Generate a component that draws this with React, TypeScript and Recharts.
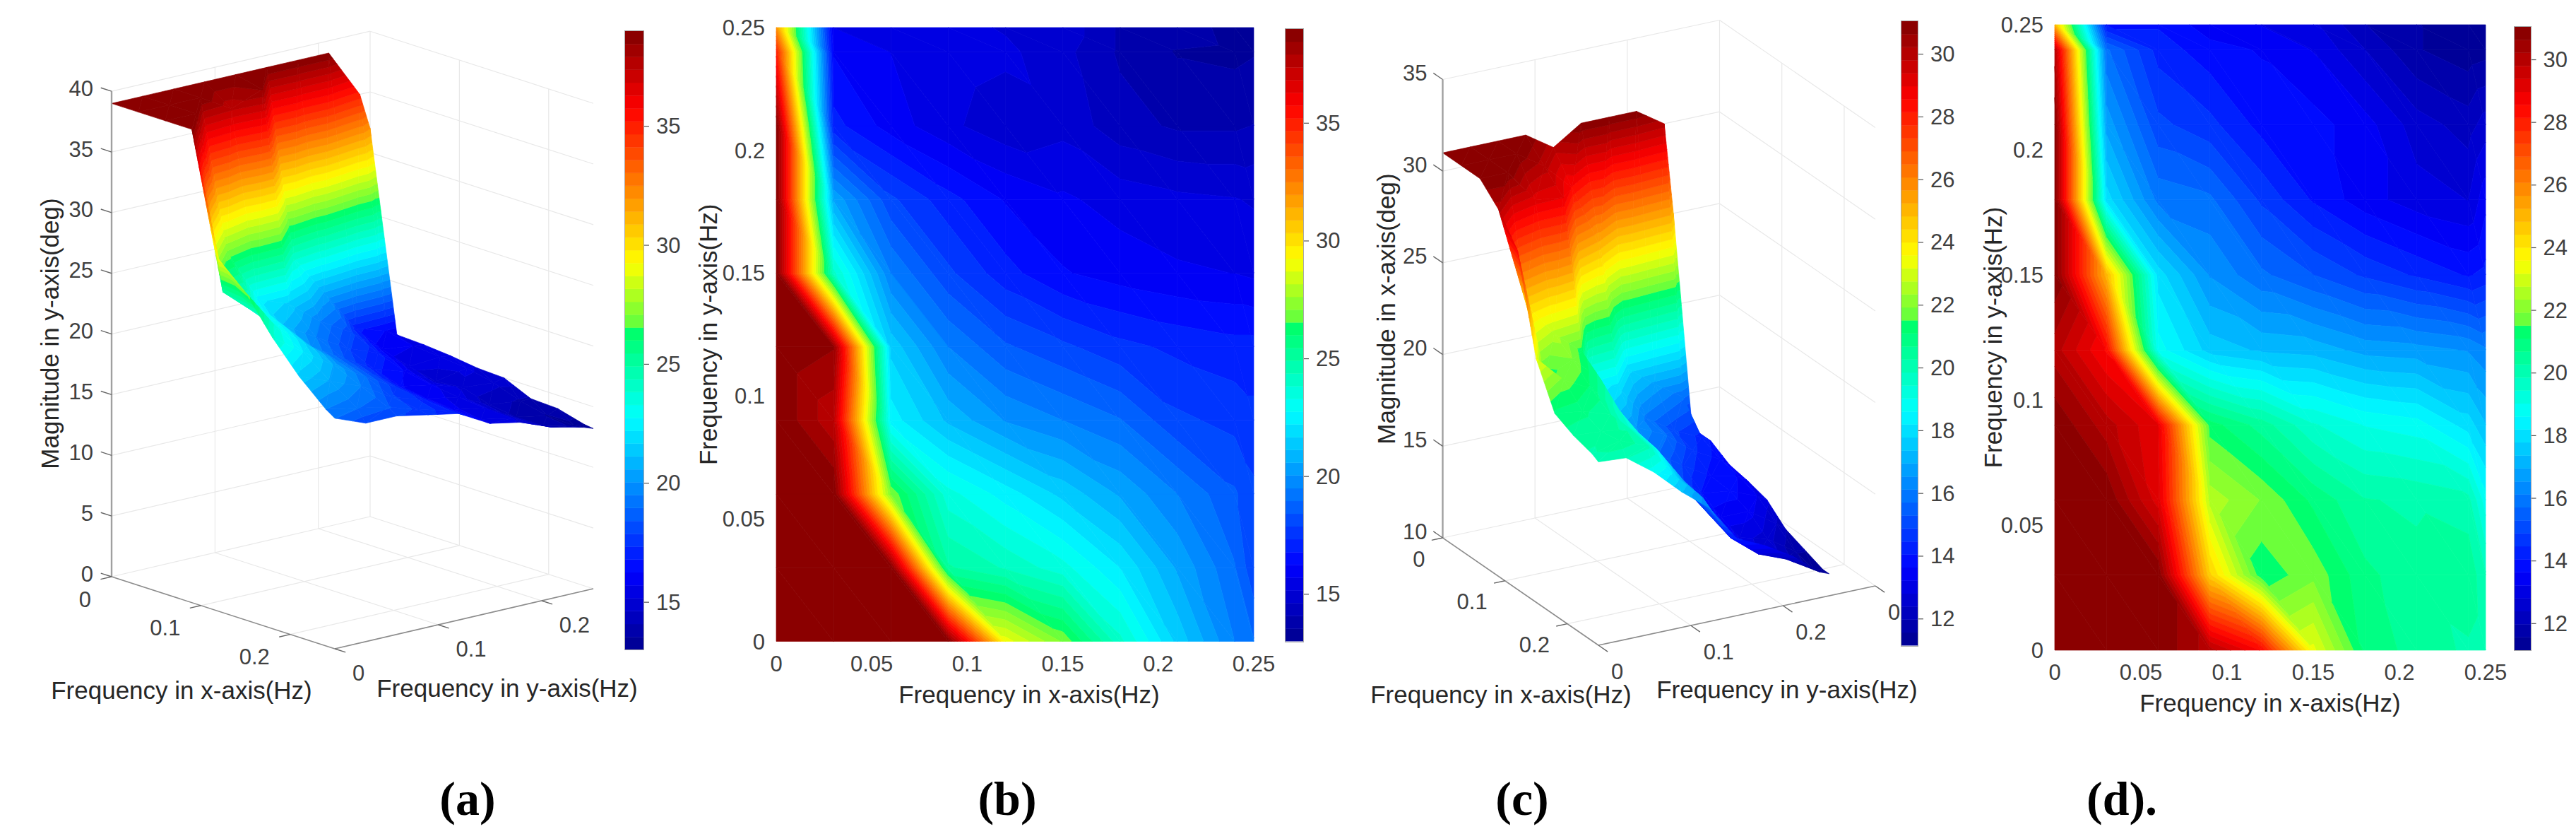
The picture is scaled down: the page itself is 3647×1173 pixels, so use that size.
import { Bar, BarChart, Label, Scatter, ScatterChart, XAxis, YAxis } from "recharts";

// grid of the measurements, same on both frequency axes
const freqs = [0, 0.03, 0.06, 0.09, 0.12, 0.15, 0.18, 0.21, 0.24, 0.25];

// one row per y frequency, one column per x frequency
const magnitudeY = [
  [39, 39, 39, 39, 29, 27, 24, 21.5, 19.5, 19],
  [39, 39, 39, 25, 24.3, 23.5, 22.2, 20.5, 19, 18],
  [39, 39, 27, 23.5, 22.5, 21.5, 20.5, 19.5, 18.5, 18],
  [39, 37.5, 22.5, 21, 20, 19.5, 19, 18, 17.7, 17.5],
  [39, 38.5, 21.5, 19.5, 18.5, 18, 17.5, 17.2, 17, 17],
  [39, 24, 19.5, 18, 17, 16.3, 16, 15.8, 15.7, 15.6],
  [39, 20.5, 18, 17, 16.2, 15.8, 15.5, 15.3, 15.2, 15.1],
  [39, 17, 16, 15.3, 14.8, 15, 14.3, 14, 14, 14.1],
  [35, 16.2, 15.7, 15.5, 15.3, 14.8, 14, 13.5, 13.4, 13.5],
  [32, 15.7, 15.6, 15.4, 15.1, 15, 14, 13.9, 13.3, 13.2],
];

const magnitudeX = [
  [31, 31, 31, 30, 28.5, 23.3, 21, 20.5, 20.2, 20],
  [31, 31, 31, 24.5, 21.2, 21.8, 20.8, 20.4, 20.6, 19.9],
  [31, 31, 29.2, 22.6, 21.9, 21, 20.3, 20.2, 20, 18.8],
  [31, 30, 29, 21.3, 20.5, 19.5, 19, 18.8, 18, 17.4],
  [30, 28.5, 18.8, 17.6, 17.3, 17.2, 16.8, 16.7, 16.5, 16.2],
  [31, 25, 18, 16.5, 15.8, 15.3, 14.8, 14.4, 14, 14.2],
  [31, 18, 16, 15.8, 14.8, 14, 13.4, 13, 12.8, 13.5],
  [31, 16.8, 15, 14.6, 13.9, 13.8, 13.4, 12.6, 12.2, 12.6],
  [30, 15.8, 14.3, 13.8, 13.6, 13.2, 12.4, 11.6, 11.3, 11.4],
  [25, 14, 14, 13.4, 13.2, 12.9, 12, 11.6, 11.2, 11.2],
];

const heatTicks = [0, 0.05, 0.1, 0.15, 0.2, 0.25];
const barTicksY = [15, 20, 25, 30, 35];
const barTicksX = [12, 14, 16, 18, 20, 22, 24, 26, 28, 30];
const zTicksY = [0, 5, 10, 15, 20, 25, 30, 35, 40];
const zTicksX = [10, 15, 20, 25, 30, 35];

const SANS = "'Liberation Sans', Arial, sans-serif";
const TICK_COLOR = "#404040";
const LABEL_COLOR = "#262626";
const BANDS = 48;

// jet, with the step the source figure has just above the middle green
const mapStops = [
  [0, 0, 0, 143],
  [0.125, 0, 0, 255],
  [0.375, 0, 255, 255],
  [0.515, 0, 255, 105],
  [0.52, 90, 255, 65],
  [0.625, 255, 255, 0],
  [0.875, 255, 0, 0],
  [1, 128, 0, 0],
];

function mapColor(t: number) {
  for (let i = 1; i < mapStops.length; i++) {
    const a = mapStops[i - 1];
    const b = mapStops[i];
    if (t <= b[0]) {
      const f = (t - a[0]) / (b[0] - a[0]);
      return `rgb(${[1, 2, 3].map((k) => Math.round(a[k] + (b[k] - a[k]) * f)).join(",")})`;
    }
  }
  return "rgb(128,0,0)";
}

type P3 = [number, number, number];

function clipZ(poly: P3[], limit: number, above: boolean) {
  const out: P3[] = [];
  const inside = (p: P3) => (above ? p[2] >= limit : p[2] <= limit);
  poly.forEach((p, i) => {
    const q = poly[(i + 1) % poly.length];
    if (inside(p)) out.push(p);
    if (inside(p) !== inside(q)) {
      const f = (limit - p[2]) / (q[2] - p[2]);
      out.push([p[0] + (q[0] - p[0]) * f, p[1] + (q[1] - p[1]) * f, limit]);
    }
  });
  return out;
}

// splits one grid cell into flat colour bands, like a filled contour
function cellBands(grid: number[][], i: number, j: number, lo: number, hi: number) {
  const pt = (a: number, b: number): P3 => [freqs[a], freqs[b], Math.max(lo, Math.min(hi, grid[b][a]))];
  const tris = [
    [pt(i, j), pt(i + 1, j), pt(i, j + 1)],
    [pt(i + 1, j + 1), pt(i, j + 1), pt(i + 1, j)],
  ];
  const step = (hi - lo) / BANDS;
  const bands: { pts: P3[]; color: string }[] = [];
  tris.forEach((tri) => {
    for (let k = 0; k < BANDS; k++) {
      const poly = clipZ(clipZ(tri, lo + k * step, true), lo + (k + 1) * step, false);
      if (poly.length > 2) bands.push({ pts: poly, color: mapColor((k + 0.5) / BANDS) });
    }
  });
  return bands;
}

function BandPaths({ bands, toPx }: { bands: { pts: P3[]; color: string }[]; toPx: (p: P3) => number[] }) {
  return (
    <g>
      {bands.map((b, n) => (
        <path
          key={n}
          d={"M" + b.pts.map((p) => toPx(p).map((v) => v.toFixed(2)).join(" ")).join("L") + "Z"}
          fill={b.color}
          stroke={b.color}
          strokeWidth={0.7}
        />
      ))}
    </g>
  );
}

function Colorbar({ left, top, width, height, min, max, ticks, fontSize = 31 }: any) {
  const step = (max - min) / BANDS;
  const row: Record<string, number | string> = { name: "bar", base: min };
  const keys = Array.from({ length: BANDS }, (_, k) => `b${k}`);
  keys.forEach((k) => (row[k] = step));
  const BarTick = (p: any) => (
    <g>
      <line x1={p.x - 7} x2={p.x} y1={p.y} y2={p.y} stroke="#555" strokeWidth={1.2} />
      <text x={p.x + 10} y={p.y} dominantBaseline="central" fontFamily={SANS} fontSize={fontSize} fill={TICK_COLOR}>
        {p.payload.value}
      </text>
    </g>
  );
  return (
    <div style={{ position: "absolute", left, top: top - 10, overflow: "visible" }}>
      <BarChart
        width={width + 70}
        height={height + 20}
        data={[row]}
        margin={{ left: 0, right: 0, top: 10, bottom: 10 }}
        barCategoryGap={0}
        style={{ overflow: "visible" }}
      >
        <XAxis dataKey="name" hide />
        <YAxis
          orientation="right"
          width={70}
          type="number"
          domain={[min, max]}
          ticks={ticks}
          allowDataOverflow
          axisLine={false}
          tickLine={false}
          tick={BarTick}
        />
        <Bar dataKey="base" stackId="s" fill="none" isAnimationActive={false} />
        {keys.map((k, n) => {
          const c = mapColor((n + 0.5) / BANDS);
          return <Bar key={k} dataKey={k} stackId="s" fill={c} stroke={c} strokeWidth={0.5} isAnimationActive={false} />;
        })}
      </BarChart>
      <div
        style={{
          position: "absolute",
          left: -1,
          top: 9,
          width,
          height,
          border: "1px solid #a8a8a8",
          pointerEvents: "none",
        }}
      />
    </div>
  );
}

function HeatPanel({ grid, left, top, width, height, min, max, xName, yName, yNameOffset, xNameDx }: any) {
  const sx = width / 0.25;
  const sy = height / 0.25;
  const cells: any[] = [];
  for (let i = 0; i < freqs.length - 1; i++) {
    for (let j = 0; j < freqs.length - 1; j++) {
      cells.push({ x: freqs[i], y: freqs[j], bands: cellBands(grid, i, j, min, max) });
    }
  }
  const tick = { fontFamily: SANS, fontSize: 31, fill: TICK_COLOR };
  return (
    <div style={{ position: "absolute", left: left - 140, top: top - 20 }}>
      <ScatterChart width={width + 180} height={height + 120} margin={{ left: 0, right: 40, top: 20, bottom: 0 }}>
        <XAxis
          type="number"
          dataKey="x"
          domain={[0, 0.25]}
          ticks={heatTicks}
          interval={0}
          height={100}
          axisLine={false}
          tickLine={false}
          tickMargin={14}
          tick={tick}
        >
          <Label value={xName} position="insideBottom" offset={13} dx={xNameDx} fontFamily={SANS} fontSize={35} fill={LABEL_COLOR} />
        </XAxis>
        <YAxis
          type="number"
          dataKey="y"
          domain={[0, 0.25]}
          ticks={heatTicks}
          interval={0}
          width={140}
          axisLine={false}
          tickLine={false}
          tickMargin={10}
          tick={tick}
        >
          <Label value={yName} angle={-90} position="insideLeft" offset={yNameOffset} fontFamily={SANS} fontSize={35} fill={LABEL_COLOR} style={{ textAnchor: "middle" }} />
        </YAxis>
        <Scatter
          data={cells}
          isAnimationActive={false}
          shape={(p: any) => (
            <BandPaths
              bands={p.payload.bands}
              toPx={(q) => [p.cx + (q[0] - p.payload.x) * sx, p.cy - (q[1] - p.payload.y) * sy]}
            />
          )}
        />
      </ScatterChart>
    </div>
  );
}

function SegmentShape(p: any) {
  const d = p.payload;
  return <line x1={p.cx} y1={p.cy} x2={p.cx + d.dx} y2={p.cy + d.dy} stroke={d.stroke} strokeWidth={d.w} />;
}

function TextShape(p: any) {
  const d = p.payload;
  return (
    <text
      x={p.cx}
      y={p.cy}
      textAnchor={d.anchor}
      dominantBaseline="central"
      fontFamily={SANS}
      fontSize={d.size}
      fill={d.fill}
      transform={d.rotate ? `rotate(${d.rotate} ${p.cx} ${p.cy})` : undefined}
    >
      {d.text}
    </text>
  );
}

function SurfacePanel({ grid, view, min, max, zTicks, xTicks, yTicks, yLabels, zName, xName, yName, left, width }: any) {
  const { o, a, b, k, xMax, yMax, zMin, zMax, tickLen, xOff, yOff, zOff, xNamePos, yNamePos, zNamePos } = view;
  const proj = (x: number, y: number, z: number) => [
    o[0] + (x / xMax) * a[0] + (y / yMax) * b[0],
    o[1] + (x / xMax) * a[1] + (y / yMax) * b[1] - (z - zMin) * k,
  ];
  const seg = (p: number[], q: number[], stroke: string, w: number) => ({
    x: p[0],
    y: p[1],
    dx: q[0] - p[0],
    dy: q[1] - p[1],
    stroke,
    w,
  });

  const GRID = "#e8e8e8";
  const AXIS = "#8c8c8c";
  const lines: any[] = [];
  zTicks.forEach((z: number) => {
    lines.push(seg(proj(0, 0, z), proj(0, yMax, z), GRID, 1.2));
    lines.push(seg(proj(0, yMax, z), proj(xMax, yMax, z), GRID, 1.2));
  });
  yTicks.filter((y: number) => y > 0 && y < yMax).forEach((y: number) => {
    lines.push(seg(proj(0, y, zMin), proj(0, y, zMax), GRID, 1.2));
    lines.push(seg(proj(0, y, zMin), proj(xMax, y, zMin), GRID, 1.2));
  });
  xTicks.filter((x: number) => x > 0).forEach((x: number) => {
    lines.push(seg(proj(x, yMax, zMin), proj(x, yMax, zMax), GRID, 1.2));
    lines.push(seg(proj(x, 0, zMin), proj(x, yMax, zMin), GRID, 1.2));
  });
  lines.push(seg(proj(0, yMax, zMin), proj(0, yMax, zMax), GRID, 1.2));

  const axes: any[] = [
    seg(proj(0, 0, zMin), proj(0, 0, zMax), "#a0a0a0", 2.4),
    seg(proj(0, 0, zMin), proj(xMax, 0, zMin), AXIS, 1.6),
    seg(proj(xMax, 0, zMin), proj(xMax, yMax, zMin), AXIS, 1.6),
  ];
  const ax = a[0] / Math.hypot(a[0], a[1]);
  const ay = a[1] / Math.hypot(a[0], a[1]);
  const bx = b[0] / Math.hypot(b[0], b[1]);
  const by = b[1] / Math.hypot(b[0], b[1]);
  zTicks.forEach((z: number) => {
    const p = proj(0, 0, z);
    axes.push(seg(p, [p[0] - ax * tickLen, p[1] - ay * tickLen], "#666", 1.4));
  });
  xTicks.forEach((x: number) => {
    const p = proj(x, 0, zMin);
    axes.push(seg(p, [p[0] - bx * tickLen, p[1] - by * tickLen], "#666", 1.4));
  });
  yTicks.forEach((y: number) => {
    const p = proj(xMax, y, zMin);
    axes.push(seg(p, [p[0] + ax * tickLen, p[1] + ay * tickLen], "#666", 1.4));
  });

  // far cells first so the nearer part of the surface covers them
  const cells: any[] = [];
  for (let i = 0; i < freqs.length - 1; i++) {
    for (let j = freqs.length - 2; j >= 0; j--) {
      const c = proj(freqs[i], freqs[j], zMin);
      cells.push({ x: c[0], y: c[1], bands: cellBands(grid, i, j, min, max) });
    }
  }

  const texts: any[] = [];
  const addText = (pos: number[], text: string, anchor: string, size: number, fill: string, rotate = 0) =>
    texts.push({ x: pos[0], y: pos[1], text, anchor, size, fill, rotate });
  zTicks.forEach((z: number) => {
    const p = proj(0, 0, z);
    addText([p[0] + zOff[0], p[1] + zOff[1]], String(z), "end", 31, TICK_COLOR);
  });
  xTicks.forEach((x: number) => {
    const p = proj(x, 0, zMin);
    addText([p[0] + xOff[0], p[1] + xOff[1]], String(x), "end", 31, TICK_COLOR);
  });
  yTicks.forEach((y: number, n: number) => {
    const p = proj(xMax, y, zMin);
    addText([p[0] + yOff[0], p[1] + yOff[1]], yLabels[n], "start", 31, TICK_COLOR);
  });
  addText(xNamePos, xName, "middle", 35, LABEL_COLOR);
  addText(yNamePos, yName, "middle", 35, LABEL_COLOR);
  addText(zNamePos, zName, "middle", 35, LABEL_COLOR, -90);

  return (
    <div style={{ position: "absolute", left, top: 0 }}>
      <ScatterChart width={width} height={1060} margin={{ left: 0, right: 0, top: 0, bottom: 0 }}>
        <XAxis type="number" dataKey="x" domain={[left, left + width]} hide />
        <YAxis type="number" dataKey="y" domain={[0, 1060]} reversed hide />
        <Scatter data={lines} shape={SegmentShape} isAnimationActive={false} />
        <Scatter
          data={cells}
          isAnimationActive={false}
          shape={(p: any) => {
            const d = p.payload;
            return (
              <BandPaths
                bands={d.bands}
                toPx={(q) => {
                  const s = proj(q[0], q[1], q[2]);
                  return [p.cx + s[0] - d.x, p.cy + s[1] - d.y];
                }}
              />
            );
          }}
        />
        <Scatter data={axes} shape={SegmentShape} isAnimationActive={false} />
        <Scatter data={texts} shape={TextShape} isAnimationActive={false} />
      </ScatterChart>
    </div>
  );
}

const viewA = {
  o: [158, 816],
  a: [316, 102],
  b: [366, -85],
  k: 17.17,
  xMax: 0.25,
  yMax: 0.25,
  zMin: 0,
  zMax: 40,
  tickLen: 16,
  zOff: [-26, -4],
  xOff: [-29, 32],
  yOff: [25, 34],
  xNamePos: [257, 976],
  yNamePos: [718, 973],
  zNamePos: [70, 472],
};

const viewC = {
  o: [2042.5, 761],
  a: [220.5, 152],
  b: [392, -84],
  k: 25.94,
  xMax: 0.25,
  yMax: 0.3,
  zMin: 10,
  zMax: 35,
  tickLen: 16,
  zOff: [-22, -9],
  xOff: [-25, 30],
  yOff: [18, 37],
  xNamePos: [2125, 982],
  yNamePos: [2530, 975],
  zNamePos: [1962, 437],
};

function Caption({ text, left, center }: any) {
  return (
    <div
      style={{
        position: "absolute",
        left,
        top: 1088,
        transform: center ? "translateX(-50%)" : undefined,
        fontFamily: "'Liberation Serif', serif",
        fontWeight: 700,
        fontSize: 68,
        lineHeight: "84px",
        color: "#000",
        whiteSpace: "pre",
      }}
    >
      {text}
    </div>
  );
}

export default function App() {
  return (
    <div style={{ position: "absolute", left: 0, top: 0, width: 3647, height: 1173, background: "#fff", overflow: "hidden" }}>
      <SurfacePanel
        grid={magnitudeY}
        view={viewA}
        min={13}
        max={39}
        left={0}
        width={950}
        zTicks={zTicksY}
        xTicks={[0, 0.1, 0.2]}
        yTicks={[0, 0.1, 0.2]}
        yLabels={["0", "0.1", "0.2"]}
        zName="Magnitude in y-axis(deg)"
        xName="Frequency in x-axis(Hz)"
        yName="Frequency in y-axis(Hz)"
      />
      <Colorbar left={885} top={43.5} width={26} height={875.5} min={13} max={39} ticks={barTicksY} />
      <HeatPanel
        grid={magnitudeY}
        left={1098.5}
        top={39}
        width={676}
        height={868.5}
        min={13}
        max={39}
        xName="Frequency in x-axis(Hz)"
        yName="Frequency in y-axis(Hz)"
        yNameOffset={43.5}
        xNameDx={20}
      />
      <Colorbar left={1820} top={41} width={25} height={866.5} min={13} max={39} ticks={barTicksY} />
      <SurfacePanel
        grid={magnitudeX}
        view={viewC}
        min={11.15}
        max={31.05}
        left={1930}
        width={820}
        zTicks={zTicksX}
        xTicks={[0, 0.1, 0.2]}
        yTicks={[0, 0.1, 0.2, 0.3]}
        yLabels={["0", "0.1", "0.2", "0"]}
        zName="Magnitude in x-axis(deg)"
        xName="Frequency in x-axis(Hz)"
        yName="Frequency in y-axis(Hz)"
      />
      <Colorbar left={2692} top={30} width={23} height={883.5} min={11.15} max={31.05} ticks={barTicksX} />
      <HeatPanel
        grid={magnitudeX}
        left={2909}
        top={34.5}
        width={610}
        height={885}
        min={11.15}
        max={31.05}
        xName="Frequency in x-axis(Hz)"
        yName="Frequency in y-axis(Hz)"
        yNameOffset={52.5}
        xNameDx={0}
      />
      <Colorbar left={3560} top={37.5} width={22.5} height={882} min={11.15} max={31.05} ticks={barTicksX} />
      <Caption text="(a)" left={662} center />
      <Caption text="(b)" left={1426} center />
      <Caption text="(c)" left={2155} center />
      <Caption text="(d)." left={2954} />
    </div>
  );
}
